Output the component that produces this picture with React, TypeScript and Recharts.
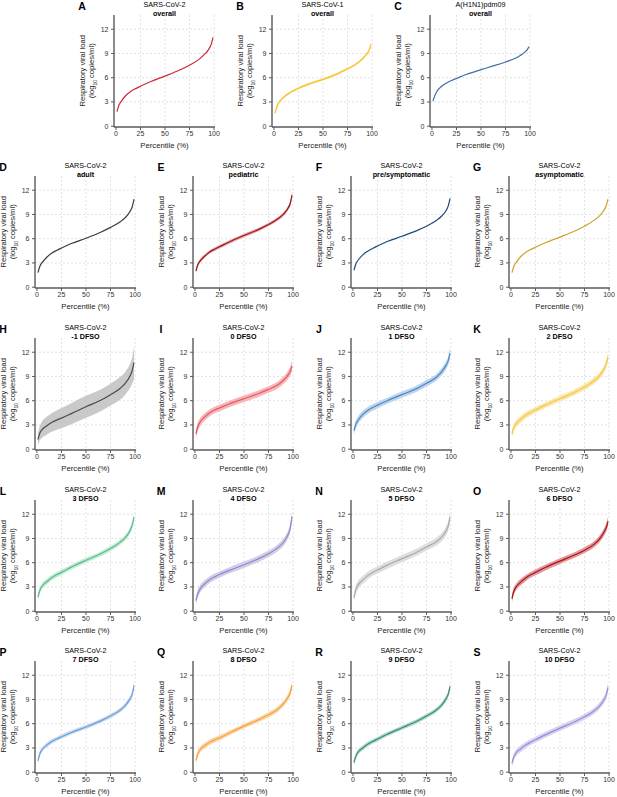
import React from 'react';
import { ComposedChart, Line, Area, XAxis, YAxis, CartesianGrid } from 'recharts';

// ---------- DATA ----------
const percentiles = [1, 3, 5, 10, 15, 20, 25, 35, 50, 65, 75, 85, 90, 95, 97, 99];
const xTicks = [0, 25, 50, 75, 100];
const yTicks = [0, 3, 6, 9, 12];

// median curves (log10 copies/ml)
const cov2Overall = [1.8, 2.6, 3.0, 3.8, 4.3, 4.65, 4.95, 5.5, 6.2, 6.95, 7.55, 8.3, 8.85, 9.6, 10.1, 11.0];
const cov1Overall = [1.6, 2.4, 2.9, 3.6, 4.05, 4.4, 4.7, 5.2, 5.8, 6.5, 7.1, 7.8, 8.3, 9.0, 9.4, 10.1];
const h1n1Overall = [3.1, 3.8, 4.3, 4.95, 5.35, 5.65, 5.9, 6.4, 7.0, 7.55, 7.95, 8.4, 8.75, 9.2, 9.45, 9.85];
const cov2Adult = [1.8, 2.6, 3.0, 3.7, 4.2, 4.55, 4.85, 5.4, 6.05, 6.8, 7.4, 8.1, 8.6, 9.4, 9.9, 10.9];
const cov2Pediatric = [2.0, 2.8, 3.2, 3.85, 4.35, 4.7, 5.0, 5.6, 6.4, 7.15, 7.75, 8.5, 9.0, 9.8, 10.3, 11.4];
const cov2PreSymp = [2.1, 2.9, 3.3, 4.0, 4.45, 4.8, 5.1, 5.65, 6.3, 7.0, 7.55, 8.25, 8.75, 9.5, 10.0, 11.0];
const cov2Asymp = [1.8, 2.6, 3.0, 3.8, 4.3, 4.65, 4.95, 5.5, 6.2, 6.95, 7.55, 8.3, 8.8, 9.55, 10.05, 10.9];
const dfsoM1 = [1.2, 2.0, 2.4, 2.9, 3.3, 3.6, 3.85, 4.4, 5.25, 6.05, 6.75, 7.55, 8.15, 9.1, 9.7, 10.7];
const dfso0 = [1.9, 2.8, 3.3, 4.0, 4.5, 4.85, 5.1, 5.6, 6.25, 6.9, 7.4, 8.0, 8.5, 9.2, 9.6, 10.3];
const dfso1 = [2.3, 3.1, 3.55, 4.3, 4.8, 5.15, 5.45, 6.0, 6.75, 7.5, 8.15, 8.9, 9.5, 10.4, 10.9, 11.9];
const dfso2 = [1.9, 2.7, 3.1, 3.7, 4.2, 4.55, 4.85, 5.45, 6.25, 7.05, 7.7, 8.5, 9.05, 9.95, 10.5, 11.4];
const dfso3 = [1.75, 2.6, 3.05, 3.65, 4.15, 4.5, 4.8, 5.45, 6.3, 7.1, 7.75, 8.55, 9.1, 10.0, 10.6, 11.6];
const dfso4 = [1.3, 2.2, 2.7, 3.4, 3.9, 4.25, 4.55, 5.05, 5.75, 6.5, 7.1, 7.9, 8.5, 9.5, 10.2, 11.7];
const dfso5 = [1.65, 2.7, 3.2, 3.85, 4.4, 4.8, 5.1, 5.7, 6.5, 7.3, 7.95, 8.6, 9.1, 9.95, 10.5, 11.6];
const dfso6 = [1.55, 2.5, 2.95, 3.6, 4.1, 4.5, 4.8, 5.4, 6.2, 6.95, 7.55, 8.3, 8.9, 9.8, 10.3, 11.1];
const dfso7 = [1.4, 2.3, 2.75, 3.35, 3.8, 4.1, 4.38, 4.92, 5.6, 6.35, 6.95, 7.7, 8.25, 9.1, 9.6, 10.7];
const dfso8 = [1.45, 2.3, 2.75, 3.3, 3.7, 4.0, 4.25, 4.85, 5.7, 6.5, 7.1, 7.85, 8.45, 9.3, 9.8, 10.7];
const dfso9 = [1.2, 2.0, 2.45, 3.0, 3.45, 3.8, 4.1, 4.7, 5.5, 6.3, 6.95, 7.7, 8.25, 9.1, 9.6, 10.6];
const dfso10 = [1.1, 1.9, 2.35, 2.9, 3.35, 3.72, 4.02, 4.62, 5.45, 6.25, 6.85, 7.6, 8.15, 9.0, 9.5, 10.5];

// half-width of the uncertainty band
const cov1Spread = [0.2, 0.2, 0.18, 0.15, 0.15, 0.15, 0.15, 0.15, 0.15, 0.15, 0.15, 0.15, 0.18, 0.2, 0.25, 0.3];
const pediatricSpread = [0.3, 0.28, 0.25, 0.22, 0.22, 0.22, 0.22, 0.22, 0.22, 0.22, 0.22, 0.22, 0.25, 0.28, 0.32, 0.4];
const dfsoM1Spread = [0.8, 0.9, 1.0, 1.1, 1.15, 1.2, 1.25, 1.3, 1.35, 1.35, 1.35, 1.4, 1.4, 1.5, 1.6, 2.0];
const dfso0Spread = [0.6, 0.55, 0.5, 0.45, 0.42, 0.4, 0.4, 0.4, 0.4, 0.4, 0.4, 0.42, 0.45, 0.5, 0.55, 0.7];
const dfso1Spread = [0.5, 0.5, 0.48, 0.45, 0.42, 0.4, 0.4, 0.38, 0.38, 0.38, 0.4, 0.42, 0.45, 0.5, 0.55, 0.7];
const dfso2Spread = [0.5, 0.48, 0.45, 0.42, 0.4, 0.38, 0.38, 0.36, 0.36, 0.36, 0.38, 0.4, 0.42, 0.48, 0.52, 0.65];
const dfso3Spread = [0.4, 0.4, 0.38, 0.35, 0.33, 0.32, 0.32, 0.3, 0.3, 0.3, 0.32, 0.33, 0.35, 0.4, 0.45, 0.55];
const dfso4Spread = [0.5, 0.5, 0.48, 0.45, 0.42, 0.4, 0.4, 0.4, 0.4, 0.4, 0.4, 0.42, 0.45, 0.5, 0.55, 0.7];
const dfso5Spread = [0.55, 0.55, 0.52, 0.5, 0.48, 0.45, 0.45, 0.45, 0.45, 0.45, 0.45, 0.48, 0.5, 0.55, 0.6, 0.75];
const dfso6Spread = [0.45, 0.45, 0.42, 0.4, 0.38, 0.36, 0.36, 0.35, 0.35, 0.35, 0.36, 0.38, 0.4, 0.45, 0.5, 0.6];
const dfso7Spread = [0.35, 0.35, 0.32, 0.3, 0.28, 0.27, 0.27, 0.26, 0.26, 0.26, 0.27, 0.28, 0.3, 0.35, 0.4, 0.5];
const dfso8Spread = [0.4, 0.4, 0.38, 0.35, 0.33, 0.32, 0.32, 0.3, 0.3, 0.3, 0.32, 0.33, 0.35, 0.4, 0.45, 0.55];
const dfso9Spread = [0.35, 0.35, 0.32, 0.3, 0.28, 0.27, 0.27, 0.26, 0.26, 0.26, 0.27, 0.28, 0.3, 0.35, 0.4, 0.5];
const dfso10Spread = [0.45, 0.45, 0.42, 0.4, 0.38, 0.36, 0.36, 0.35, 0.35, 0.35, 0.36, 0.38, 0.4, 0.45, 0.5, 0.6];

const panelLetters = ['A', 'B', 'C', 'D', 'E', 'F', 'G', 'H', 'I', 'J', 'K', 'L', 'M', 'N', 'O', 'P', 'Q', 'R', 'S'];
const panelVirus = ['SARS-CoV-2', 'SARS-CoV-1', 'A(H1N1)pdm09', 'SARS-CoV-2', 'SARS-CoV-2', 'SARS-CoV-2', 'SARS-CoV-2',
  'SARS-CoV-2', 'SARS-CoV-2', 'SARS-CoV-2', 'SARS-CoV-2', 'SARS-CoV-2', 'SARS-CoV-2', 'SARS-CoV-2', 'SARS-CoV-2',
  'SARS-CoV-2', 'SARS-CoV-2', 'SARS-CoV-2', 'SARS-CoV-2'];
const panelGroup = ['overall', 'overall', 'overall', 'adult', 'pediatric', 'pre/symptomatic', 'asymptomatic',
  '-1 DFSO', '0 DFSO', '1 DFSO', '2 DFSO', '3 DFSO', '4 DFSO', '5 DFSO', '6 DFSO', '7 DFSO', '8 DFSO', '9 DFSO', '10 DFSO'];
const panelSeries = [cov2Overall, cov1Overall, h1n1Overall, cov2Adult, cov2Pediatric, cov2PreSymp, cov2Asymp,
  dfsoM1, dfso0, dfso1, dfso2, dfso3, dfso4, dfso5, dfso6, dfso7, dfso8, dfso9, dfso10];
const panelSpread = [null, cov1Spread, null, null, pediatricSpread, null, null,
  dfsoM1Spread, dfso0Spread, dfso1Spread, dfso2Spread, dfso3Spread, dfso4Spread, dfso5Spread, dfso6Spread,
  dfso7Spread, dfso8Spread, dfso9Spread, dfso10Spread];

// ---------- STYLE / LAYOUT ----------
const lineColors = ['#cc2b36', '#f5c334', '#3d6fa3', '#3b3b3b', '#8c1c1f', '#1f4a73', '#cfa22e',
  '#4a4a4a', '#e45a60', '#4e86c4', '#f3c64e', '#58bd89', '#8c88c2', '#a9a9a9', '#9a1b22',
  '#6c9ed6', '#f2a240', '#3f8b7c', '#998ed6'];
const bandColors = ['none', '#fde39a', 'none', 'none', '#f1a3a6', 'none', 'none',
  '#c9c9c9', '#f6b6b9', '#bcd5ef', '#fce7ab', '#c2ead5', '#d2cfea', '#dedede', '#e99599',
  '#c9dcf1', '#fcd6a8', '#acd8cd', '#d7d2f2'];

const rowY0 = [126, 287, 449, 611, 772];
const row1X = [114, 272, 430];
const colX = [35, 193, 351, 509];

const PLOT_W = 101;
const PLOT_H = 112;
const Y_AXIS_W = 38;
const X_AXIS_H = 14;
const M_TOP = 5;
const M_RIGHT = 6;
const FONT = '"Liberation Sans", Arial, Helvetica, sans-serif';

function layoutFor(i: number) {
  if (i < 3) return { axisX: row1X[i], y0: rowY0[0] };
  const j = i - 3;
  return { axisX: colX[j % 4], y0: rowY0[1 + Math.floor(j / 4)] };
}

function Txt(props: { x: number; y: number; size: number; bold?: boolean; color?: string; children: React.ReactNode }) {
  const { x, y, size, bold, color, children } = props;
  return (
    <div
      style={{
        position: 'absolute',
        left: x - 100,
        top: y - size / 2,
        width: 200,
        textAlign: 'center',
        fontSize: size,
        lineHeight: `${size}px`,
        fontWeight: bold ? 700 : 400,
        color: color || '#000',
        whiteSpace: 'nowrap',
        fontFamily: FONT,
      }}
    >
      {children}
    </div>
  );
}

function RotTxt(props: { x: number; y: number; size: number; children: React.ReactNode }) {
  const { x, y, size, children } = props;
  return (
    <div
      style={{
        position: 'absolute',
        left: x - 80,
        top: y - size / 2,
        width: 160,
        height: size,
        textAlign: 'center',
        fontSize: size,
        lineHeight: `${size}px`,
        color: '#222',
        whiteSpace: 'nowrap',
        fontFamily: FONT,
        transform: 'rotate(-90deg)',
        transformOrigin: '50% 50%',
      }}
    >
      {children}
    </div>
  );
}

function Panel({ i }: { i: number }) {
  const { axisX, y0 } = layoutFor(i);
  const vals = panelSeries[i];
  const spread = panelSpread[i];
  const data = percentiles.map((p, k) => ({
    p,
    v: vals[k],
    band: spread ? [vals[k] - spread[k], vals[k] + spread[k]] : null,
  }));
  const plotBottom = y0 + 0.8;
  const plotTop = plotBottom - PLOT_H;
  const chartLeft = axisX - Y_AXIS_W;
  const chartTop = plotTop - M_TOP;
  const cx = axisX + PLOT_W / 2;
  const cy = (plotTop + plotBottom) / 2;
  const axisColor = '#5a5a5a';
  return (
    <>
      <div style={{ position: 'absolute', left: chartLeft, top: chartTop }}>
        <ComposedChart
          width={Y_AXIS_W + PLOT_W + M_RIGHT}
          height={M_TOP + PLOT_H + X_AXIS_H}
          data={data}
          margin={{ top: M_TOP, right: M_RIGHT, bottom: 0, left: 0 }}
        >
          <CartesianGrid
            stroke="#d6d6d6"
            strokeDasharray="2 2"
            strokeWidth={0.7}
            horizontalValues={[3, 6, 9, 12]}
            verticalValues={[25, 50, 75, 100]}
          />
          <XAxis
            type="number"
            dataKey="p"
            domain={[-2, 101]}
            ticks={xTicks}
            allowDataOverflow
            height={X_AXIS_H}
            tickSize={3}
            tickMargin={1.5}
            axisLine={{ stroke: axisColor, strokeWidth: 1.4 }}
            tickLine={{ stroke: axisColor, strokeWidth: 1 }}
            tick={{ fontSize: 7, fill: '#333', fontFamily: FONT }}
            interval={0}
          />
          <YAxis
            type="number"
            domain={[-0.1, 13.76]}
            ticks={yTicks}
            allowDataOverflow
            width={Y_AXIS_W}
            tickSize={3}
            tickMargin={2.5}
            axisLine={{ stroke: axisColor, strokeWidth: 1.4 }}
            tickLine={{ stroke: axisColor, strokeWidth: 1 }}
            tick={{ fontSize: 7, fill: '#333', fontFamily: FONT }}
            interval={0}
          />
          {spread ? (
            <Area
              type="monotone"
              dataKey="band"
              stroke="none"
              fill={bandColors[i]}
              fillOpacity={1}
              isAnimationActive={false}
              activeDot={false}
            />
          ) : null}
          <Line
            type="monotone"
            dataKey="v"
            stroke={lineColors[i]}
            strokeWidth={1.2}
            dot={false}
            activeDot={false}
            isAnimationActive={false}
          />
        </ComposedChart>
      </div>
      <Txt x={axisX - 32} y={plotTop - 9} size={10.5} bold>
        {panelLetters[i]}
      </Txt>
      <Txt x={cx} y={plotTop - 10} size={7.2}>
        {panelVirus[i]}
      </Txt>
      <Txt x={cx} y={plotTop - 1.5} size={7.2} bold>
        {panelGroup[i]}
      </Txt>
      <Txt x={cx} y={y0 + 20} size={7.7} color="#222">
        Percentile (%)
      </Txt>
      <RotTxt x={axisX - 31} y={cy} size={7.6}>
        Respiratory viral load
      </RotTxt>
      <RotTxt x={axisX - 22} y={cy} size={7.6}>
        (log<span style={{ fontSize: 5, verticalAlign: 'sub', lineHeight: 0 }}>10</span> copies/ml)
      </RotTxt>
    </>
  );
}

export default function App() {
  return (
    <div
      style={{
        position: 'absolute',
        left: 0,
        top: 0,
        width: 617,
        height: 797,
        background: '#fff',
        overflow: 'hidden',
        fontFamily: FONT,
      }}
    >
      {panelLetters.map((_, i) => (
        <Panel key={i} i={i} />
      ))}
    </div>
  );
}
